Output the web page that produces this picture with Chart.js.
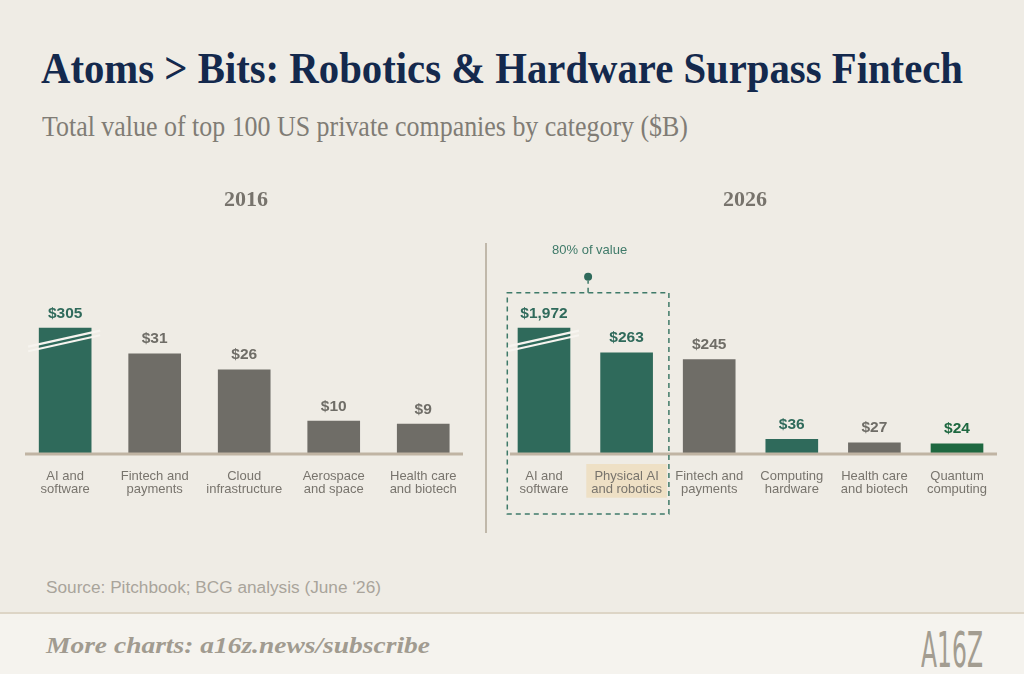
<!DOCTYPE html>
<html>
<head>
<meta charset="utf-8">
<script src="https://cdn.jsdelivr.net/npm/chart.js@4.4.1/dist/chart.umd.min.js"></script>
<style>
    html, body { margin: 0; padding: 0; background: #efece5; }
    #page { position: relative; width: 1024px; height: 674px; overflow: hidden; background: #efece5; }
    .txt { position: absolute; white-space: nowrap; line-height: 1; transform-origin: 0 0; }
    #title { left: 41px; top: 47px; font-family: 'Liberation Serif', serif; font-weight: bold; font-size: 44px; color: #14294d; }
    #subtitle { left: 42px; top: 111px; font-family: 'Liberation Serif', serif; font-size: 30px; color: #807c75; }
    .year { top: 188px; width: 100px; text-align: center; font-family: 'Liberation Serif', serif; font-weight: bold; font-size: 22px; color: #77736c; }
    #source { left: 46px; top: 580px; font-family: 'Liberation Sans', sans-serif; font-size: 16px; color: #a9a49b; }
    #footer { position: absolute; left: 0; top: 612px; width: 1024px; height: 62px; background: #f5f3ee; border-top: 2px solid #ddd5c6; }
    #more { left: 46px; top: 634px; font-family: 'Liberation Serif', serif; font-style: italic; font-weight: bold; font-size: 23px; color: #a19b90; }
    #logo { left: 921px; top: 625px; font-family: 'Liberation Sans Narrow', 'DejaVu Sans Condensed', sans-serif; font-size: 50px; color: #a39d91; }
    #divider { position: absolute; left: 485px; top: 243px; width: 2px; height: 290px; background: #c0b8aa; }
    canvas { position: absolute; top: 200px; }
</style>
</head>
<body>
<div id="page">
    <span id="title" class="txt">Atoms &gt; Bits: Robotics &amp; Hardware Surpass Fintech</span>
    <span id="subtitle" class="txt">Total value of top 100 US private companies by category ($B)</span>
    <canvas id="chart2016" width="490" height="340" style="left:0px"></canvas>
    <canvas id="chart2026" width="534" height="340" style="left:490px"></canvas>
    <div class="txt year" style="left:196px">2016</div>
    <div class="txt year" style="left:695px">2026</div>
    <div id="divider"></div>
    <span id="source" class="txt">Source: Pitchbook; BCG analysis (June ‘26)</span>
    <div id="footer"></div>
    <span id="more" class="txt">More charts: a16z.news/subscribe</span>
    <span id="logo" class="txt">A16Z</span>
</div>
<script>
// Veriler
const categories2016 = [['AI and', 'software'], ['Fintech and', 'payments'], ['Cloud', 'infrastructure'], ['Aerospace', 'and space'], ['Health care', 'and biotech']];
const values2016 = [305, 31, 26, 10, 9];

const categories2026 = [['AI and', 'software'], ['Physical AI', 'and robotics'], ['Fintech and', 'payments'], ['Computing', 'hardware'], ['Health care', 'and biotech'], ['Quantum', 'computing']];
const values2026 = [1972, 263, 245, 36, 27, 24];

// eksen üst sınırları ($B) - en büyük çubuk kırık gösteriliyor
const yMax2016 = 50;
const yMax2026 = 420;
const breakFraction = 0.78;

// Renkler
const GREEN = '#2f6a5b';
const GREY = '#6f6d67';
const DEEP_GREEN = '#1e6840';
const colors2016 = [GREEN, GREY, GREY, GREY, GREY];
const colors2026 = [GREEN, GREEN, GREY, GREEN, GREY, DEEP_GREEN];

// metni verilen genişliğe sığdır
function fitWidth(id, width) {
    const el = document.getElementById(id);
    const w = el.getBoundingClientRect().width;
    el.style.transform = 'scaleX(' + (width / w) + ')';
}

// taban çizgisi, değer etiketleri ve kırık işaretleri
const barDecor = {
    id: 'barDecor',
    afterDatasetsDraw(chart, args, opts) {
        const ctx = chart.ctx;
        const area = chart.chartArea;
        const y0 = chart.scales.y.getPixelForValue(0);
        const meta = chart.getDatasetMeta(0);
        const real = opts.values;

        ctx.save();
        // kırık işareti
        meta.data.forEach((bar, i) => {
            if (real[i] <= chart.data.datasets[0].data[i]) return;
            const half = bar.width / 2;
            const x1 = bar.x - half - 11, x2 = bar.x + half + 9;
            const cy = bar.y + 12.5;
            const slope = -0.222;
            ctx.strokeStyle = '#f6f4ef';
            ctx.lineWidth = 2.2;
            [-2.3, 2.3].forEach(off => {
                ctx.beginPath();
                ctx.moveTo(x1, cy + off + slope * (x1 - bar.x));
                ctx.lineTo(x2, cy + off + slope * (x2 - bar.x));
                ctx.stroke();
            });
        });

        // taban çizgisi
        ctx.strokeStyle = '#c0b4a3';
        ctx.lineWidth = 3;
        ctx.beginPath();
        ctx.moveTo(area.left + opts.inset[0], y0 + 1);
        ctx.lineTo(area.right - opts.inset[1], y0 + 1);
        ctx.stroke();

        // değer etiketleri
        ctx.font = 'bold 15.5px "Liberation Sans", sans-serif';
        ctx.textAlign = 'center';
        ctx.textBaseline = 'alphabetic';
        meta.data.forEach((bar, i) => {
            ctx.fillStyle = opts.colors[i];
            ctx.fillText('$' + real[i].toLocaleString('en-US'), bar.x, bar.y - 10.5);
        });
        ctx.restore();
    }
};

// 2026 paneli: vurgulu etiket ve kesikli kutu
const highlight2026 = {
    id: 'highlight2026',
    beforeDraw(chart) {
        const ctx = chart.ctx;
        const y0 = chart.scales.y.getPixelForValue(0);
        const x = chart.scales.x.getPixelForValue(1);
        ctx.save();
        ctx.fillStyle = '#eee0c5';
        ctx.fillRect(x - 40.3, y0 + 11, 80.6, 33.7);
        ctx.restore();
    },
    afterDraw(chart) {
        const ctx = chart.ctx;
        const area = chart.chartArea;
        const y0 = chart.scales.y.getPixelForValue(0);
        const bars = chart.getDatasetMeta(0).data;
        const left = bars[0].x - 36.7;
        const right = bars[1].x + 42.3;
        const top = area.top - 0.3;
        const bottom = y0 + 61;
        const mid = (left + right) / 2;

        ctx.save();
        ctx.strokeStyle = '#3f7a69';
        ctx.lineWidth = 1.5;
        ctx.setLineDash([5, 4]);
        ctx.strokeRect(left, top, right - left, bottom - top);
        ctx.beginPath();
        ctx.moveTo(mid, top);
        ctx.lineTo(mid, top - 12);
        ctx.stroke();
        ctx.setLineDash([]);
        ctx.fillStyle = '#2f6a5b';
        ctx.beginPath();
        ctx.arc(mid, top - 16, 4, 0, Math.PI * 2);
        ctx.fill();
        ctx.font = '13px "Liberation Sans", sans-serif';
        ctx.textAlign = 'center';
        ctx.textBaseline = 'middle';
        ctx.fillStyle = '#3f7a69';
        ctx.fillText('80% of value', mid + 1.5, top - 42);
        ctx.restore();
    }
};

function makePanel(canvasId, labels, values, yMax, colors, padLeft, padRight, inset, extra) {
    const cap = yMax * breakFraction;
    return new Chart(document.getElementById(canvasId), {
        type: 'bar',
        data: {
            labels: labels,
            datasets: [{
                data: values.map(v => Math.min(v, cap)),
                backgroundColor: colors,
                barThickness: 52
            }]
        },
        options: {
            responsive: false,
            animation: false,
            events: [],
            layout: { padding: { left: padLeft, right: padRight, top: 93, bottom: 0 } },
            plugins: {
                legend: { display: false },
                tooltip: { enabled: false },
                barDecor: { values: values, colors: colors, inset: inset }
            },
            scales: {
                x: {
                    grid: { display: false },
                    border: { display: false },
                    ticks: {
                        color: '#78746d',
                        font: { family: 'Liberation Sans', size: 13, lineHeight: 1 },
                        padding: 8.5,
                        maxRotation: 0,
                        autoSkip: false
                    },
                    afterFit: scale => { scale.height = 87; }
                },
                y: { display: false, min: 0, max: yMax }
            }
        },
        plugins: [barDecor].concat(extra)
    });
}

document.addEventListener('DOMContentLoaded', () => {
    fitWidth('title', 922);
    fitWidth('subtitle', 646);
    fitWidth('source', 335);
    fitWidth('more', 384);
    fitWidth('logo', 62);

    makePanel('chart2016', categories2016, values2016, yMax2016, colors2016, 20.4, 22, [4.6, 5], []);
    makePanel('chart2026', categories2026, values2026, yMax2026, colors2026, 12.7, 25.7, [7.3, 1.3], [highlight2026]);
});
</script>
</body>
</html>
